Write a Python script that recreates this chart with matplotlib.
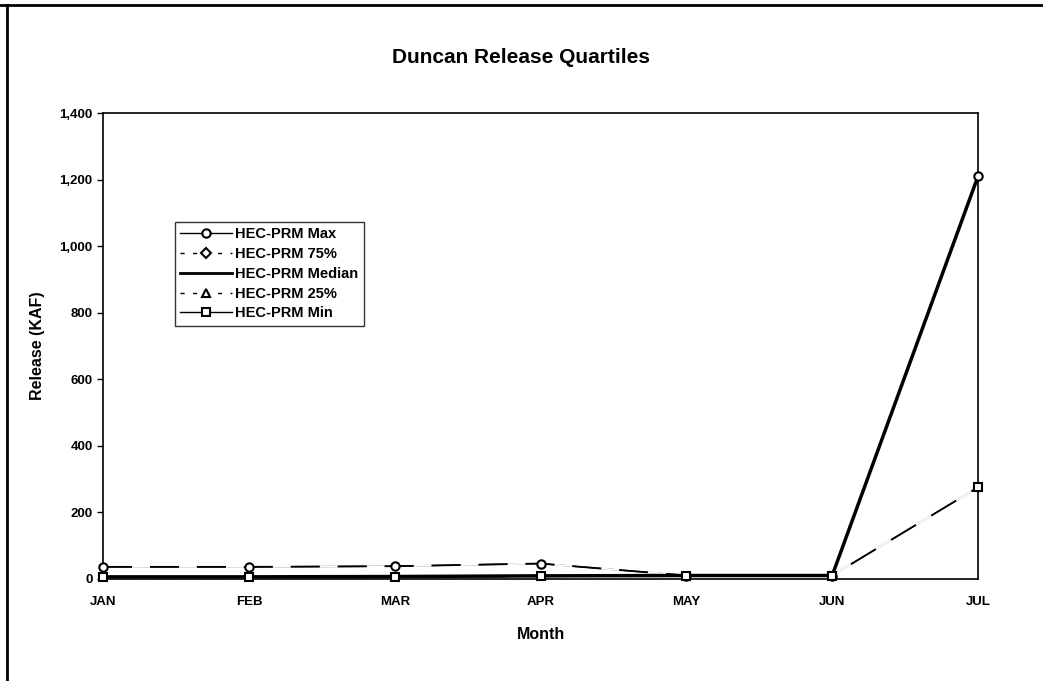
import matplotlib.pyplot as plt
from matplotlib.ticker import FuncFormatter
from matplotlib.lines import Line2D

plt.rcParams['font.family'] = ['Liberation Sans', 'DejaVu Sans']

months = ['JAN', 'FEB', 'MAR', 'APR', 'MAY', 'JUN', 'JUL']
rel_max = [36, 36, 38, 46, 10, 10, 1210]
rel_75 = [36, 36, 38, 46, 10, 10, 1210]
rel_median = [6, 6, 7, 9, 10, 10, 1210]
rel_25 = [5, 5, 6, 8, 9, 10, 275]
rel_min = [5, 5, 6, 8, 9, 10, 275]

fig = plt.figure(figsize=(10.43, 6.81), dpi=100)
ax = fig.add_axes([0.0988, 0.150, 0.8389, 0.684])

x = list(range(len(months)))
mk = dict(markerfacecolor='white', markeredgecolor='black', markeredgewidth=1.5)
dash = dict(ls='--', dashes=(16, 10), gapcolor='white', lw=1.3, color='black')

# lines
ax.plot(x, rel_max, '-', color='black', lw=1.0, zorder=2)
ax.plot(x, rel_min, '-', color='black', lw=1.0, zorder=2)
ax.plot(x, rel_75, zorder=3, **dash)
ax.plot(x, rel_25, zorder=3, **dash)
ax.plot(x, rel_median, '-', color='black', lw=2.5, zorder=4)
# markers on top
ax.plot(x, rel_75, ls='none', marker='D', markersize=3.5, zorder=5, clip_on=False, **mk)
ax.plot(x, rel_25, ls='none', marker='^', markersize=4, zorder=5, clip_on=False, **mk)
ax.plot(x, rel_max, ls='none', marker='o', markersize=6, zorder=6, clip_on=False, **mk)
ax.plot(x, rel_min, ls='none', marker='s', markersize=6, zorder=6, clip_on=False, **mk)

handles = [
    Line2D([], [], color='black', lw=1.0, marker='o', markersize=6, **mk),
    Line2D([], [], color='black', lw=1.0, ls='--', dashes=(3, 6), marker='D', markersize=5, **mk),
    Line2D([], [], color='black', lw=2.0),
    Line2D([], [], color='black', lw=1.0, ls='--', dashes=(3, 6), marker='^', markersize=6, **mk),
    Line2D([], [], color='black', lw=1.0, marker='s', markersize=6, **mk),
]
labels = ['HEC-PRM Max', 'HEC-PRM 75%', 'HEC-PRM Median', 'HEC-PRM 25%', 'HEC-PRM Min']

ax.set_xlim(0, 6)
ax.set_ylim(0, 1400)
ax.set_xticks(x)
ax.set_xticklabels(months)
ax.set_yticks(range(0, 1401, 200))
ax.yaxis.set_major_formatter(FuncFormatter(lambda v, p: f'{int(v):,}'))
ax.tick_params(axis='y', labelsize=9.5, direction='out', length=4, width=1)
ax.tick_params(axis='x', labelsize=9.5, length=0, pad=12)
for lbl in ax.get_xticklabels() + ax.get_yticklabels():
    lbl.set_fontweight('bold')
for s in ax.spines.values():
    s.set_linewidth(1.2)

ax.set_xlabel('Month', fontsize=11.5, fontweight='bold', labelpad=14)
ax.set_ylabel('Release (KAF)', fontsize=11.5, fontweight='bold', labelpad=10)
fig.suptitle('Duncan Release Quartiles', fontsize=15, fontweight='bold', y=0.93)

leg = ax.legend(handles, labels, loc='upper left', bbox_to_anchor=(0.082, 0.766), frameon=True,
                fancybox=False, edgecolor='black', handlelength=3.6, borderpad=0.35,
                labelspacing=0.4, handletextpad=0.2, borderaxespad=0,
                prop={'weight': 'bold', 'size': 10.5})
leg.get_frame().set_linewidth(1.0)

# page border (top and left only, as scanned)
fig.add_artist(Line2D([0.0, 1.0], [0.992, 0.992], transform=fig.transFigure, color='black', lw=2))
fig.add_artist(Line2D([0.007, 0.007], [0.0, 0.992], transform=fig.transFigure, color='black', lw=2))

fig.savefig('out.png', dpi=100)
